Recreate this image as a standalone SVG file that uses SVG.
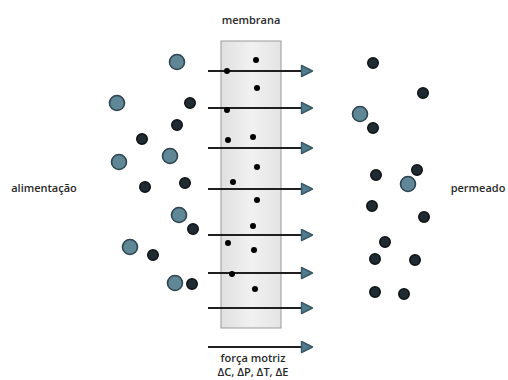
<svg xmlns="http://www.w3.org/2000/svg" width="508" height="380" viewBox="0 0 508 380">
  <style>
    .lbl { font-family: "Open Sans", "Noto Sans", sans-serif; font-size: 11px; font-weight: 600; fill: #2a2a2a; }
    .big { fill: #5f8796; stroke: #2e4550; stroke-width: 1.6; }
    .sm { fill: #1f2b31; stroke: #0c1114; stroke-width: 1.4; }
    .md { fill: #000; }
    .flow { stroke: #1f1f1f; stroke-width: 2; fill: none; marker-end: url(#head); }
  </style>
  <defs>
    <linearGradient id="memFill" x1="0" y1="0" x2="1" y2="0">
      <stop offset="0" stop-color="#e0e0e0"/>
      <stop offset="0.5" stop-color="#f1f1f1"/>
      <stop offset="1" stop-color="#e4e4e4"/>
    </linearGradient>
    <marker id="head" viewBox="0 0 14 14" refX="2" refY="7" markerWidth="14" markerHeight="14" markerUnits="userSpaceOnUse" orient="auto">
      <path d="M1.5,1.5 L12.5,7 L1.5,12.5 Z" fill="#4f7d8f" stroke="#3a5966" stroke-width="1.4" stroke-linejoin="round"/>
    </marker>
  </defs>

  <rect width="508" height="380" fill="#ffffff"/>

  <!-- membrane -->
  <g id="membrane">
    <rect x="221" y="41" width="60" height="287" fill="url(#memFill)" stroke="#999" stroke-width="1"/>
    <text class="lbl" x="251" y="24" text-anchor="middle">membrana</text>
  </g>

  <!-- driving-force arrows -->
  <g id="connectors">
    <line class="flow" x1="208" y1="71" x2="302" y2="71"/>
    <line class="flow" x1="208" y1="108" x2="302" y2="108"/>
    <line class="flow" x1="208" y1="148" x2="302" y2="148"/>
    <line class="flow" x1="208" y1="189" x2="302" y2="189"/>
    <line class="flow" x1="208" y1="235" x2="302" y2="235"/>
    <line class="flow" x1="208" y1="273" x2="302" y2="273"/>
    <line class="flow" x1="208" y1="308" x2="302" y2="308"/>
    <line class="flow" x1="208" y1="347" x2="302" y2="347"/>
  </g>

  <!-- small species passing through the membrane -->
  <g id="membrane-particles">
    <circle class="md" cx="256" cy="60" r="3"/>
    <circle class="md" cx="227" cy="71" r="3"/>
    <circle class="md" cx="257" cy="88" r="3"/>
    <circle class="md" cx="227" cy="110" r="3"/>
    <circle class="md" cx="228" cy="140" r="3"/>
    <circle class="md" cx="253" cy="137" r="3"/>
    <circle class="md" cx="257" cy="167" r="3"/>
    <circle class="md" cx="233" cy="182" r="3"/>
    <circle class="md" cx="257" cy="200" r="3"/>
    <circle class="md" cx="253" cy="226" r="3"/>
    <circle class="md" cx="228" cy="243" r="3"/>
    <circle class="md" cx="254" cy="250" r="3"/>
    <circle class="md" cx="232" cy="274" r="3"/>
    <circle class="md" cx="255" cy="289" r="3"/>
  </g>

  <!-- feed side -->
  <g id="feed">
    <circle class="big" cx="177" cy="62" r="7.5"/>
    <circle class="big" cx="117" cy="103" r="7.5"/>
    <circle class="big" cx="170" cy="156" r="7.5"/>
    <circle class="big" cx="119" cy="162" r="7.5"/>
    <circle class="big" cx="179" cy="215" r="7.5"/>
    <circle class="big" cx="130" cy="247" r="7.5"/>
    <circle class="big" cx="175" cy="283" r="7.5"/>
    <circle class="sm" cx="190" cy="103" r="5.3"/>
    <circle class="sm" cx="177" cy="125" r="5.3"/>
    <circle class="sm" cx="142" cy="139" r="5.3"/>
    <circle class="sm" cx="145" cy="187" r="5.3"/>
    <circle class="sm" cx="185" cy="183" r="5.3"/>
    <circle class="sm" cx="193" cy="229" r="5.3"/>
    <circle class="sm" cx="153" cy="255" r="5.3"/>
    <circle class="sm" cx="192" cy="284" r="5.3"/>
    <text class="lbl" x="44" y="192" text-anchor="middle">alimentação</text>
  </g>

  <!-- permeate side -->
  <g id="permeate">
    <circle class="big" cx="360" cy="114" r="7.5"/>
    <circle class="big" cx="408" cy="184" r="7.5"/>
    <circle class="sm" cx="373" cy="63" r="5.3"/>
    <circle class="sm" cx="423" cy="93" r="5.3"/>
    <circle class="sm" cx="373" cy="128" r="5.3"/>
    <circle class="sm" cx="376" cy="175" r="5.3"/>
    <circle class="sm" cx="417" cy="170" r="5.3"/>
    <circle class="sm" cx="372" cy="206" r="5.3"/>
    <circle class="sm" cx="424" cy="217" r="5.3"/>
    <circle class="sm" cx="385" cy="242" r="5.3"/>
    <circle class="sm" cx="375" cy="259" r="5.3"/>
    <circle class="sm" cx="415" cy="260" r="5.3"/>
    <circle class="sm" cx="375" cy="292" r="5.3"/>
    <circle class="sm" cx="404" cy="294" r="5.3"/>
    <text class="lbl" x="478" y="192" text-anchor="middle">permeado</text>
  </g>

  <!-- driving force caption -->
  <g id="driving-force">
    <text class="lbl" x="253" y="362" text-anchor="middle">força motriz</text>
    <text class="lbl" x="253" y="376" text-anchor="middle">ΔC, ΔP, ΔT, ΔE</text>
  </g>
</svg>
